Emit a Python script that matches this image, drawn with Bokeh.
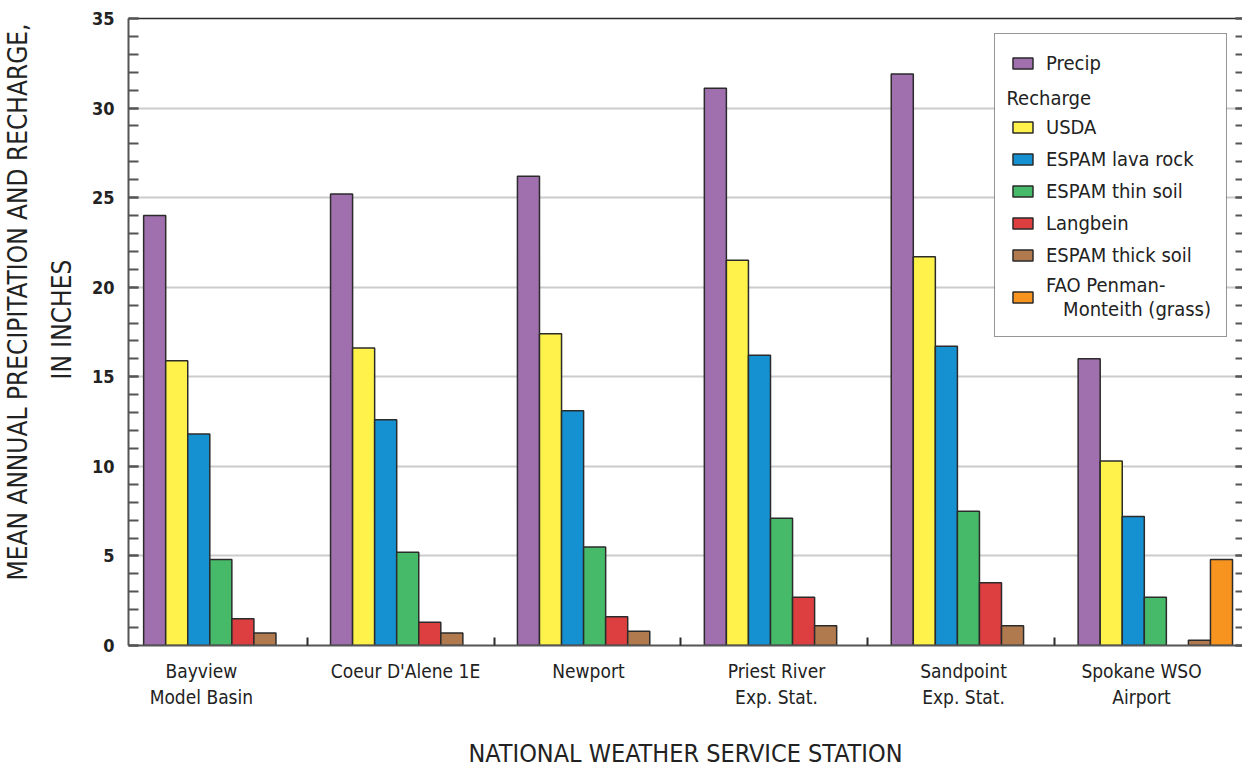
import numpy as np
from bokeh.plotting import figure
from bokeh.models import (Range1d, LinearAxis, SingleIntervalTicker, FixedTicker,
                          Legend, LegendItem, Label, BoxAnnotation, Title)
from bokeh.embed import file_html
from bokeh.resources import INLINE

# ---- data (inches) ----
stations = ["Bayview\nModel Basin", "Coeur D'Alene 1E", "Newport",
            "Priest River\nExp. Stat.", "Sandpoint\nExp. Stat.", "Spokane WSO\nAirport"]

precip = [24.0, 25.2, 26.2, 31.1, 31.9, 16.0]
usda = [15.9, 16.6, 17.4, 21.5, 21.7, 10.3]
espam_lava_rock = [11.8, 12.6, 13.1, 16.2, 16.7, 7.2]
espam_thin_soil = [4.8, 5.2, 5.5, 7.1, 7.5, 2.7]
langbein = [1.5, 1.3, 1.6, 2.7, 3.5, None]
espam_thick_soil = [0.7, 0.7, 0.8, 1.1, 1.1, 0.3]
fao_penman_monteith = [None, None, None, None, None, 4.8]

y_major_step = 5
y_max = 35

# ---- styling ----
FONT = "'Liberation Sans Narrow', 'DejaVu Sans Condensed', 'Arial Narrow', sans-serif"
INK = "#2b2b2b"
AXIS = "#555555"
TEXT = "#222222"

series = [
    ("Precip", precip, "#9f6fae"),
    ("USDA", usda, "#fff24a"),
    ("ESPAM lava rock", espam_lava_rock, "#1590d1"),
    ("ESPAM thin soil", espam_thin_soil, "#47ba69"),
    ("Langbein", langbein, "#dd3f40"),
    ("ESPAM thick soil", espam_thick_soil, "#b17a4e"),
    ("FAO Penman-\n\u00a0\u00a0\u00a0Monteith (grass)", fao_penman_monteith, "#f7941f"),
]

n = len(stations)
idx = np.arange(n)
slot_w = 0.118          # width of one bar, in category units
group_start = 0.125     # gap before the first bar of each station
label_nudge = [-0.066, 0.026, 0.005, 0.011, 0.012, -0.036]

# frame geometry (pixels)
LEFT, TOP, FRAME_W, FRAME_H = 127, 18, 1114, 627
PX_PER_CAT = 186.9
x0 = 0.044
x1 = x0 + FRAME_W / PX_PER_CAT


def sx(px):
    """canvas x pixel -> x data"""
    return x0 + (px - LEFT) / PX_PER_CAT


def sy(py):
    """canvas y pixel -> y data"""
    return y_max * (TOP + FRAME_H - py) / FRAME_H


p = figure(frame_width=FRAME_W, frame_height=FRAME_H,
           x_range=Range1d(x0, x1), y_range=Range1d(0, y_max),
           output_backend="svg", toolbar_location=None,
           min_border_left=LEFT, min_border_right=0,
           min_border_top=TOP, min_border_bottom=0,
           background_fill_color="white", border_fill_color="white")

p.outline_line_color = None
xa = p.xaxis[0]
ya = p.yaxis[0]

p.ygrid.ticker = SingleIntervalTicker(interval=y_major_step)
p.ygrid.grid_line_color = "#cccccc"
p.ygrid.grid_line_width = 2
p.xgrid.grid_line_color = None

# white panel behind the legend entries (hides the grid lines)
legend_right_px = LEFT + FRAME_W - 15
legend_top_px = TOP + 15
p.add_layout(BoxAnnotation(left=sx(legend_right_px - 233), right=sx(legend_right_px - 1),
                           top=sy(legend_top_px + 1), bottom=sy(legend_top_px + 302),
                           fill_color="white", fill_alpha=1, line_alpha=0,
                           level="underlay"))

renderers = []
for j, (name, vals, color) in enumerate(series):
    xs = idx + group_start + (j + 0.5) * slot_w
    tops = np.array([np.nan if v is None else v for v in vals], dtype=float)
    r = p.vbar(x=xs, top=tops, bottom=0, width=slot_w,
               fill_color=color, line_color=INK, line_width=1.5)
    renderers.append((name, r))

# placeholder row for the "Recharge" heading inside the legend
spacer = p.vbar(x=[], top=[], width=slot_w, fill_alpha=0, line_alpha=0)

items = [LegendItem(label=renderers[0][0], renderers=[renderers[0][1]]),
         LegendItem(label=" ", renderers=[spacer])]
items += [LegendItem(label=name, renderers=[r]) for name, r in renderers[1:]]

legend = Legend(items=items, location="top_right", margin=15,
                padding=15, spacing=4, glyph_width=25, glyph_height=14,
                label_standoff=11, label_height=28,
                label_text_font=FONT, label_text_font_size="20px",
                label_text_color=TEXT,
                border_line_color=INK, border_line_width=1.5,
                background_fill_alpha=0)
p.add_layout(legend)

p.add_layout(Label(x=sx(legend_right_px - 221), y=sy(legend_top_px + 64), text="Recharge",
                   text_font=FONT, text_font_size="20px", text_color=TEXT,
                   text_baseline="middle", text_align="left"))

# ---- y axes ----
yticker = SingleIntervalTicker(interval=y_major_step, num_minor_ticks=5)
ya.ticker = yticker
ya.axis_line_color = AXIS
ya.axis_line_width = 2
ya.major_tick_in = 10
ya.major_tick_out = 0
ya.minor_tick_in = 10
ya.minor_tick_out = 0
ya.major_tick_line_color = AXIS
ya.minor_tick_line_color = AXIS
ya.major_tick_line_width = 2
ya.minor_tick_line_width = 2
ya.major_label_standoff = 14
ya.major_label_text_font = FONT
ya.major_label_text_font_size = "18px"
ya.major_label_text_font_style = "bold"
ya.major_label_text_color = TEXT

# two-line y-axis title, set as separate side titles
for text, offset, standoff in [("IN INCHES", 266, 24),
                               ("MEAN ANNUAL PRECIPITATION AND RECHARGE,", 65, 0)]:
    p.add_layout(Title(text=text, align="left", offset=offset, standoff=standoff,
                       text_font=FONT, text_font_size="26px",
                       text_font_style="normal", text_color=TEXT), "left")

blank = {float(v): "" for v in range(0, y_max + 1, y_major_step)}
ra = LinearAxis(ticker=yticker, major_label_overrides=blank,
                major_label_standoff=0, axis_line_alpha=0,
                major_tick_in=7, major_tick_out=0, minor_tick_in=7, minor_tick_out=0,
                major_tick_line_color=AXIS, minor_tick_line_color=AXIS,
                major_tick_line_width=2, minor_tick_line_width=2)
p.add_layout(ra, "right")

# top frame edge
ta = LinearAxis(ticker=FixedTicker(ticks=[]), axis_line_color=INK, axis_line_width=1.5,
                major_tick_in=0, major_tick_out=0, minor_tick_in=0, minor_tick_out=0,
                major_label_standoff=0)
p.add_layout(ta, "above")

# ---- x axis ----
label_pos = [float(i + 0.5 + d) for i, d in zip(idx, label_nudge)]
xa.ticker = FixedTicker(ticks=label_pos, minor_ticks=[float(i) for i in range(1, n)])
xa.major_label_overrides = {pos: name for pos, name in zip(label_pos, stations)}
xa.major_tick_in = 0
xa.major_tick_out = 0
xa.minor_tick_in = 8
xa.minor_tick_out = 0
xa.minor_tick_line_color = INK
xa.minor_tick_line_width = 2
xa.axis_line_color = AXIS
xa.axis_line_width = 2
xa.major_label_standoff = 14
xa.major_label_text_font = FONT
xa.major_label_text_font_size = "19px"
xa.major_label_text_color = TEXT
xa.axis_label = "NATIONAL WEATHER SERVICE STATION"
xa.axis_label_text_font = FONT
xa.axis_label_text_font_size = "25px"
xa.axis_label_text_font_style = "normal"
xa.axis_label_text_color = TEXT
xa.axis_label_standoff = 28

open("out.html", "w").write(file_html(p, INLINE))
